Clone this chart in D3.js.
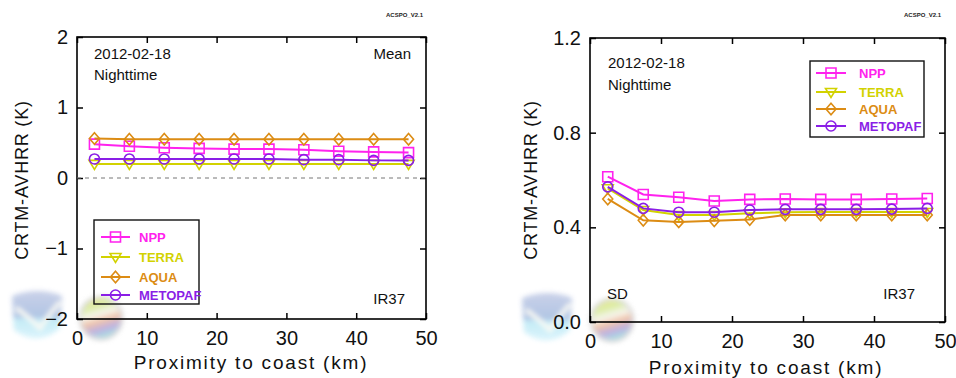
<!DOCTYPE html>
<html>
<head>
<meta charset="utf-8">
<script src="https://cdn.jsdelivr.net/npm/d3@7"></script>
<style>
html,body{margin:0;padding:0;background:#fff;}
svg{display:block;font-family:"Liberation Sans",Arial,sans-serif;}
</style>
</head>
<body>
<svg id="chart" width="956" height="378"></svg>
<script>
// ---------- data ----------
const xValues = [2.5, 7.5, 12.5, 17.5, 22.5, 27.5, 32.5, 37.5, 42.5, 47.5];
const seriesNames = ["NPP", "TERRA", "AQUA", "METOPAF"];
const seriesColors = ["#ff22ee", "#d2d200", "#dc8c14", "#8a1ee6"];
const seriesMarkers = ["square", "triangleDown", "diamond", "circle"];

// Mean panel (K)
const meanNPP     = [0.48, 0.45, 0.43, 0.42, 0.41, 0.41, 0.40, 0.38, 0.37, 0.36];
const meanTERRA   = [0.20, 0.20, 0.20, 0.20, 0.20, 0.20, 0.20, 0.20, 0.20, 0.20];
const meanAQUA    = [0.56, 0.55, 0.55, 0.55, 0.55, 0.55, 0.55, 0.55, 0.55, 0.55];
const meanMETOPAF = [0.27, 0.27, 0.27, 0.27, 0.27, 0.27, 0.26, 0.26, 0.25, 0.25];

// SD panel (K)
const sdNPP     = [0.614, 0.539, 0.527, 0.511, 0.518, 0.520, 0.518, 0.518, 0.520, 0.522];
const sdTERRA   = [0.565, 0.473, 0.452, 0.452, 0.459, 0.464, 0.465, 0.465, 0.465, 0.465];
const sdAQUA    = [0.520, 0.430, 0.423, 0.428, 0.433, 0.452, 0.452, 0.452, 0.452, 0.452];
const sdMETOPAF = [0.571, 0.480, 0.464, 0.464, 0.473, 0.476, 0.476, 0.476, 0.477, 0.480];

const xTicks = [0, 10, 20, 30, 40, 50];
const meanYTicks = [-2, -1, 0, 1, 2];
const sdYTicks = [0.0, 0.4, 0.8, 1.2];
const sdYTickLabels = ["0.0", "0.4", "0.8", "1.2"];

const svg = d3.select("#chart");
const defs = svg.append("defs");
const blur = defs.append("filter").attr("id", "blur").attr("x", "-50%").attr("y", "-50%").attr("width", "200%").attr("height", "200%");
blur.append("feGaussianBlur").attr("stdDeviation", 2.5);
const gg = defs.append("linearGradient").attr("id", "glob").attr("x1", 0).attr("y1", 0).attr("x2", 0.3).attr("y2", 1);
[["0%", "#f2e27a"], ["30%", "#d8eb9a"], ["50%", "#f6f6f0"], ["65%", "#f0c0a0"], ["85%", "#b8a8e0"], ["100%", "#9ed8e0"]]
  .forEach(s => gg.append("stop").attr("offset", s[0]).attr("stop-color", s[1]));
const sg = defs.append("linearGradient").attr("id", "swoosh").attr("x1", 0).attr("y1", 0).attr("x2", 0).attr("y2", 1);
[["0%", "#c4cce6"], ["55%", "#a9c0e2"], ["60%", "#bfeaf6"], ["100%", "#d8f3fb"]]
  .forEach(s => sg.append("stop").attr("offset", s[0]).attr("stop-color", s[1]));

function markerPath(type, s) {
  const h = s / 2;
  if (type === "square") return `M${-h},${-h}H${h}V${h}H${-h}Z`;
  if (type === "triangleDown") return `M${-h*1.1},${-h*0.7}H${h*1.1}L0,${h*1.1}Z`;
  if (type === "diamond") return `M0,${-h*1.15}L${h},0L0,${h*1.15}L${-h},0Z`;
  if (type === "circle") return d3.arc()({innerRadius:0, outerRadius:h, startAngle:0, endAngle:2*Math.PI});
  return "";
}

function logo(g, cx1, cy1, cx2, cy2) {
  const lg = g.append("g").attr("filter", "url(#blur)").attr("opacity", 0.9);
  lg.append("path")
    .attr("d", `M${cx1-26},${cy1-20} Q${cx1},${cy1-30} ${cx1+24},${cy1-20} L${cx1+22},${cy1+12} Q${cx1},${cy1+32} ${cx1-24},${cy1+14} Z`)
    .attr("fill", "url(#swoosh)");
  lg.append("path")
    .attr("d", `M${cx1-22},${cy1-8} Q${cx1-8},${cy1+2} ${cx1+2},${cy1+12} Q${cx1+10},${cy1} ${cx1+22},${cy1-14}`)
    .attr("fill", "none").attr("stroke", "#fbfbf4").attr("stroke-width", 4);
  lg.append("circle").attr("cx", cx2).attr("cy", cy2).attr("r", 21).attr("fill", "url(#glob)")
    .attr("stroke", "#d6d6d6").attr("stroke-width", 3);
}

function drawPanel(cfg) {
  const g = svg.append("g");
  const x = d3.scaleLinear().domain([0, 50]).range([cfg.left, cfg.right]);
  const y = d3.scaleLinear().domain(cfg.yDomain).range([cfg.bottom, cfg.top]);

  logo(g, cfg.logo[0], cfg.logo[1], cfg.logo[2], cfg.logo[3]);

  // frame
  g.append("rect").attr("x", cfg.left).attr("y", cfg.top)
    .attr("width", cfg.right - cfg.left).attr("height", cfg.bottom - cfg.top)
    .attr("fill", "none").attr("stroke", "#000").attr("stroke-width", 1.6);

  // axes (ticks inside)
  const tl = 6;
  const xb = g.append("g").attr("transform", `translate(0,${cfg.bottom})`)
    .call(d3.axisBottom(x).tickValues(xTicks).tickSize(-tl).tickPadding(14).tickFormat(d3.format("d")));
  const xt = g.append("g").attr("transform", `translate(0,${cfg.top})`)
    .call(d3.axisTop(x).tickValues(xTicks).tickSize(-tl).tickFormat(""));
  const yl = g.append("g").attr("transform", `translate(${cfg.left},0)`)
    .call(d3.axisLeft(y).tickValues(cfg.yTicks).tickSize(-tl).tickPadding(9).tickFormat((d, i) => cfg.yTickLabels[i]));
  const yr = g.append("g").attr("transform", `translate(${cfg.right},0)`)
    .call(d3.axisRight(y).tickValues(cfg.yTicks).tickSize(-tl).tickFormat(""));
  [xb, xt, yl, yr].forEach(a => {
    a.select(".domain").remove();
    a.selectAll(".tick line").attr("stroke", "#000").attr("stroke-width", 1.5);
    a.selectAll(".tick text").attr("fill", "#111").attr("font-size", 20);
  });
  xb.selectAll(".tick text").attr("dy", "0.6em");

  if (cfg.zeroLine) {
    g.append("line").attr("x1", cfg.left).attr("x2", cfg.right)
      .attr("y1", y(0)).attr("y2", y(0))
      .attr("stroke", "#777").attr("stroke-width", 1).attr("stroke-dasharray", "4,4");
  }

  // series
  cfg.series.forEach((vals, i) => {
    const pts = xValues.map((xv, j) => [xv, vals[j]]);
    g.append("path").datum(pts)
      .attr("d", d3.line().x(d => x(d[0])).y(d => y(d[1])))
      .attr("fill", "none").attr("stroke", seriesColors[i]).attr("stroke-width", 2);
    g.selectAll(null).data(pts).enter().append("path")
      .attr("transform", d => `translate(${x(d[0])},${y(d[1])})`)
      .attr("d", markerPath(seriesMarkers[i], 10))
      .attr("fill", "none").attr("stroke", seriesColors[i]).attr("stroke-width", 1.6);
  });

  // annotations
  const ann = (tx, ty, s, anchor, size) => g.append("text").attr("x", tx).attr("y", ty)
    .attr("text-anchor", anchor || "start").attr("font-size", size || 15).attr("fill", "#111").text(s);
  cfg.texts.forEach(t => ann(t[0], t[1], t[2], t[3]));

  // legend
  const L = cfg.legend;
  g.append("rect").attr("x", L.x).attr("y", L.y).attr("width", L.w).attr("height", L.h)
    .attr("fill", "none").attr("stroke", "#111").attr("stroke-width", 1.4);
  seriesNames.forEach((name, i) => {
    const ly = L.rows[i];
    g.append("line").attr("x1", L.lx1).attr("x2", L.lx2).attr("y1", ly).attr("y2", ly)
      .attr("stroke", seriesColors[i]).attr("stroke-width", 2);
    g.append("path").attr("transform", `translate(${(L.lx1 + L.lx2) / 2},${ly})`)
      .attr("d", markerPath(seriesMarkers[i], 10))
      .attr("fill", "none").attr("stroke", seriesColors[i]).attr("stroke-width", 1.6);
    g.append("text").attr("x", L.tx).attr("y", ly).attr("dy", "0.36em")
      .attr("font-size", 13).attr("font-weight", "bold").attr("fill", seriesColors[i]).text(name);
  });

  // axis titles
  g.append("text").attr("transform", `translate(${cfg.yTitle[0]},${cfg.yTitle[1]}) rotate(-90)`)
    .attr("text-anchor", "middle").attr("dy", "0.35em").attr("font-size", 18).attr("fill", "#111")
    .attr("letter-spacing", 0.8).text("CRTM-AVHRR (K)");
  g.append("text").attr("x", cfg.xTitle[0]).attr("y", cfg.xTitle[1])
    .attr("text-anchor", "middle").attr("dy", "0.35em").attr("font-size", 19).attr("fill", "#111")
    .attr("letter-spacing", 1.8).text("Proximity to coast (km)");

  g.append("text").attr("x", cfg.version[0]).attr("y", cfg.version[1]).attr("text-anchor", "end")
    .attr("font-size", 6).attr("font-weight", "bold").attr("fill", "#222").text("ACSPO_V2.1");
}

drawPanel({
  left: 77, right: 426, top: 37, bottom: 319,
  yDomain: [-2, 2], yTicks: meanYTicks, yTickLabels: meanYTicks.map(d => d < 0 ? "\u2212" + Math.abs(d) : String(d)),
  zeroLine: true,
  series: [meanNPP, meanTERRA, meanAQUA, meanMETOPAF],
  texts: [[94, 59, "2012-02-18"], [94, 80, "Nighttime"], [411, 59, "Mean", "end"], [405, 304, "IR37", "end"]],
  legend: {x: 94, y: 220, w: 105, h: 84, rows: [237, 257, 277, 295], lx1: 101, lx2: 130, tx: 139},
  yTitle: [22, 180], xTitle: [251, 362],
  version: [423, 17],
  logo: [38, 316, 101, 318]
});

drawPanel({
  left: 590, right: 945, top: 38, bottom: 322,
  yDomain: [0, 1.2], yTicks: sdYTicks, yTickLabels: sdYTickLabels,
  zeroLine: false,
  series: [sdNPP, sdTERRA, sdAQUA, sdMETOPAF],
  texts: [[608, 68, "2012-02-18"], [608, 90, "Nighttime"], [607, 299, "SD"], [915, 299, "IR37", "end"]],
  legend: {x: 810, y: 61, w: 114, h: 76, rows: [73, 92, 109, 126], lx1: 816, lx2: 846, tx: 859},
  yTitle: [531, 180], xTitle: [766, 367],
  version: [941, 17],
  logo: [548, 318, 612, 320]
});
</script>
</body>
</html>
